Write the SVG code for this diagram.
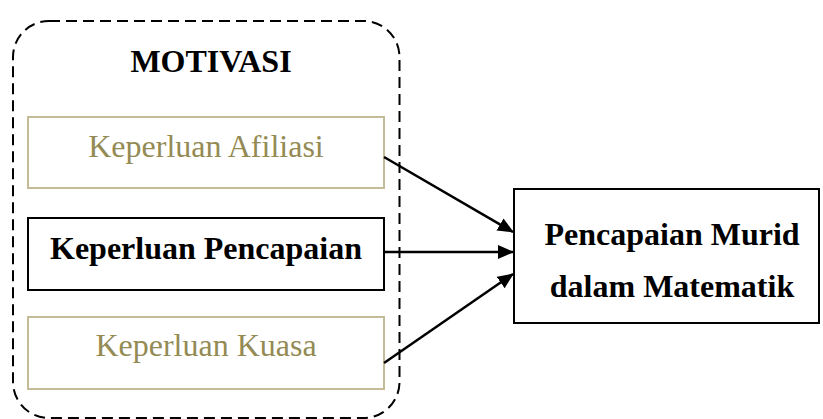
<svg xmlns="http://www.w3.org/2000/svg" width="823" height="419" viewBox="0 0 823 419">
<defs>
<style>
.t{font-family:"Liberation Serif","Times New Roman",serif;font-size:32px;text-anchor:middle}
.b{font-weight:bold;fill:#000}
.o{fill:#948a54}
.box{fill:#fff;stroke:#000;stroke-width:2}
.tan{fill:#fff;stroke:#c4bc96;stroke-width:2}
.c{stroke:#000;stroke-width:2.5;fill:none;marker-end:url(#ah)}
</style>
<marker id="ah" markerWidth="16" markerHeight="14" refX="15" refY="7" orient="auto" markerUnits="userSpaceOnUse">
<path d="M0,0 L16,7 L0,14 Z" fill="#000"/>
</marker>
</defs>
<rect width="823" height="419" fill="#fff"/>
<g id="motivasi">
<rect x="13" y="21" width="386.5" height="397" rx="36" ry="36" fill="none" stroke="#000" stroke-width="2" stroke-dasharray="11,6"/>
<text class="t b" x="211" y="72">MOTIVASI</text>
</g>
<g id="afiliasi">
<rect class="tan" x="28" y="117" width="356" height="71"/>
<text class="t o" x="206" y="157">Keperluan Afiliasi</text>
</g>
<g id="pencapaian">
<rect class="box" x="28" y="218" width="356" height="72"/>
<text class="t b" x="206" y="259">Keperluan Pencapaian</text>
</g>
<g id="kuasa">
<rect class="tan" x="28" y="317" width="356" height="72"/>
<text class="t o" x="206" y="356">Keperluan Kuasa</text>
</g>
<g id="murid">
<rect class="box" x="514" y="189" width="305" height="134"/>
<text class="t b" x="672" y="245">Pencapaian Murid</text>
<text class="t b" x="672" y="297">dalam Matematik</text>
</g>
<g id="connectors">
<line class="c" x1="384" y1="157" x2="513" y2="232"/>
<line class="c" x1="384" y1="252" x2="513" y2="252"/>
<line class="c" x1="384" y1="363" x2="513" y2="274"/>
</g>
</svg>
